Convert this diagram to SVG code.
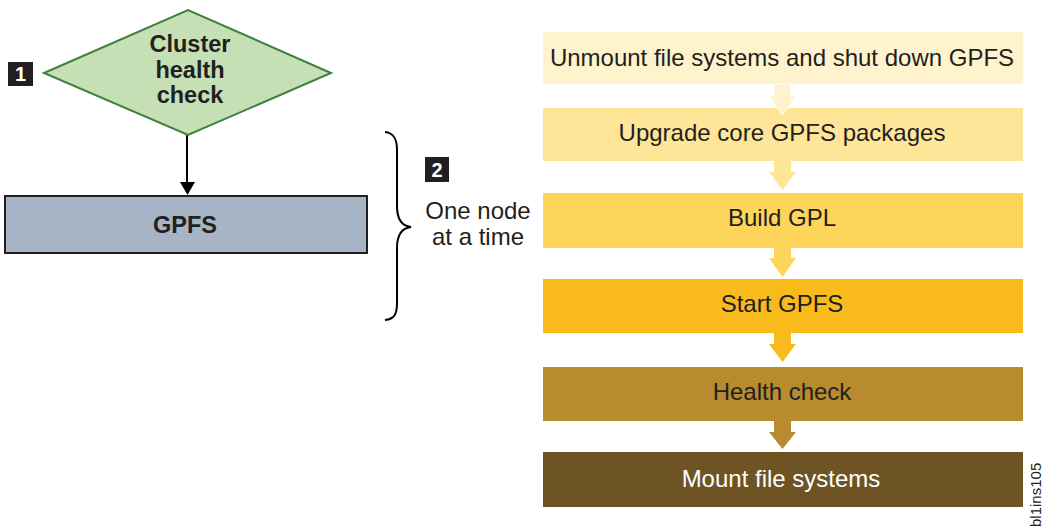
<svg xmlns="http://www.w3.org/2000/svg" width="1042" height="531" viewBox="0 0 1042 531">
<style>
text{font-family:"Liberation Sans",Arial,sans-serif;fill:#231f20}
.b{font-weight:bold;font-size:23.5px}
.s{font-size:24px;text-anchor:middle}
.tag{fill:#231f20}
.tagt{fill:#fff;font-weight:bold;font-size:20px;text-anchor:middle}
</style>
<rect width="1042" height="531" fill="#fff"/>
<g id="connectors">
<line x1="187" y1="135" x2="187" y2="184" stroke="#000" stroke-width="2"/>
<path d="M180,182 L195,182 L187.5,195 Z" fill="#000"/>
</g>
<g id="tag1"><rect class="tag" x="8" y="62" width="25" height="24"/><text class="tagt" x="20.5" y="81">1</text></g>
<g id="cluster-check">
<polygon points="44,73 188,10 331,73 188,135" fill="#c5e0b4" stroke="#3f7f3f" stroke-width="2"/>
<text class="b" x="190" y="52" text-anchor="middle">Cluster</text>
<text class="b" x="190" y="78" text-anchor="middle">health</text>
<text class="b" x="190" y="103" text-anchor="middle">check</text>
</g>
<g id="gpfs">
<rect x="5" y="196" width="362" height="57" fill="#a7b4c6" stroke="#231f20" stroke-width="2"/>
<text class="b" x="185" y="233" text-anchor="middle">GPFS</text>
</g>
<g id="brace">
<path d="M385,132 C394,133 397,139 397,150 L397,206 C397,220 402,226 411,227 C402,228 397,234 397,248 L397,303 C397,315 394,319 385,320" fill="none" stroke="#000" stroke-width="2"/>
</g>
<g id="tag2"><rect class="tag" x="425" y="157" width="24" height="25"/><text class="tagt" x="437" y="177">2</text></g>
<g id="note">
<text x="478" y="219" font-size="24" text-anchor="middle">One node</text>
<text x="478" y="245" font-size="24" text-anchor="middle">at a time</text>
</g>
<g id="step1"><rect x="543" y="32" width="480" height="52" fill="#fef3cc"/><text class="s" x="782" y="66">Unmount file systems and shut down GPFS</text></g>
<g id="step2"><rect x="543" y="108" width="480" height="53" fill="#fee598"/><text class="s" x="782" y="141">Upgrade core GPFS packages</text></g>
<g id="step3"><rect x="543" y="193" width="480" height="55" fill="#fdd55a"/><text class="s" x="782" y="226">Build GPL</text></g>
<g id="step4"><rect x="543" y="279" width="480" height="54" fill="#f9bb1b"/><text class="s" x="782" y="312">Start GPFS</text></g>
<g id="step5"><rect x="543" y="367" width="480" height="54" fill="#b88b2e"/><text class="s" x="782" y="400">Health check</text></g>
<g id="step6"><rect x="543" y="452" width="480" height="55" fill="#6e5423"/><text class="s" x="781" y="487" style="fill:#fff">Mount file systems</text></g>
<g id="flow-arrows">
<polygon points="774,84 791,84 791,96 796,96 782.5,115 769,96 774,96" fill="#fef3cc" stroke="#fff" stroke-width="1"/>
<polygon points="774,161 791,161 791,172 796,172 782.5,190 769,172 774,172" fill="#fee598"/>
<polygon points="774,248 791,248 791,258 796,258 782.5,277 769,258 774,258" fill="#fdd55a"/>
<polygon points="774,333 791,333 791,344 796,344 782.5,362 769,344 774,344" fill="#f9bb1b"/>
<polygon points="774,421 791,421 791,432 796,432 782.5,449 769,432 774,432" fill="#b88b2e"/>
</g>
<text x="0" y="0" font-size="15" transform="translate(1041,527) rotate(-90)">bl1ins105</text>
</svg>
